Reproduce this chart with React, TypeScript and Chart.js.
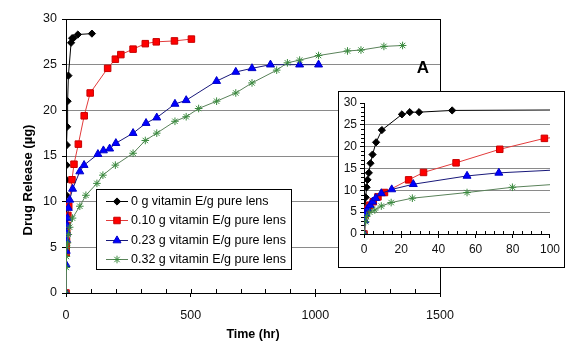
import React, { useEffect, useRef } from 'react';
import { Chart, registerables } from 'chart.js';
import { drawPoint } from 'chart.js/helpers';

Chart.register(...registerables);

// ---- data (time in hr, release in µg) ----
const seriesNames = [
  '0 g vitamin E/g pure lens',
  '0.10 g vitamin E/g pure lens',
  '0.23 g vitamin E/g pure lens',
  '0.32 g vitamin E/g pure lens',
];

const time0 = [0, 0.9, 1.4, 1.9, 2.6, 3.5, 4.6, 6.5, 9.6, 20.4, 24.6, 29.6, 47.4, 104];
const release0 = [0, 8.4, 10.7, 12.4, 14.0, 16.2, 18.2, 21.0, 23.8, 27.4, 27.9, 27.9, 28.3, 28.4];

const time1 = [0, 0.5, 1, 2, 3, 5, 7.5, 11, 24, 32, 49.5, 73, 97, 167, 198, 220, 269, 318, 362, 435, 503];
const release1 = [0, 4.4, 5.0, 5.7, 6.6, 7.4, 8.5, 9.5, 12.4, 14.1, 16.3, 19.4, 21.9, 24.6, 25.6, 26.1, 26.7, 27.3, 27.5, 27.6, 27.8];

const time2 = [0, 0.4, 0.9, 1.9, 3.3, 4.6, 6.3, 9.3, 14.9, 26.5, 55.4, 72.5, 128, 150, 175, 200, 269, 321, 364, 437, 482, 604, 681, 746, 820, 937, 1013];
const release2 = [0, 3.1, 4.6, 5.8, 6.6, 7.4, 8.2, 9.3, 10.2, 11.4, 13.3, 14.0, 15.2, 15.6, 15.8, 16.4, 17.5, 18.6, 19.2, 20.7, 21.1, 23.2, 24.2, 24.6, 25.0, 25.0, 25.0];

const time3 = [0, 0.9, 1.4, 3.1, 5.8, 9.3, 14.6, 26, 55.4, 79.8, 124, 148, 198, 269, 318, 364, 437, 482, 532, 604, 681, 746, 845, 888, 937, 1013, 1129, 1183, 1275, 1350];
const release3 = [0, 2.8, 4.0, 5.0, 5.5, 6.4, 7.2, 8.2, 9.5, 10.7, 12.0, 12.9, 14.0, 15.3, 16.7, 17.5, 18.8, 19.3, 20.2, 21.0, 21.9, 23.0, 24.4, 25.2, 25.5, 26.0, 26.5, 26.6, 27.0, 27.1];

const mainXTicks = [0, 500, 1000, 1500];
const mainYTicks = [0, 5, 10, 15, 20, 25, 30];
const mainXMinor = [100, 200, 300, 400, 500, 600, 700, 800, 900, 1000, 1100, 1200, 1300, 1400];
const insetXTicks = [0, 20, 40, 60, 80, 100];
const insetYTicks = [0, 5, 10, 15, 20, 25, 30];
const insetXMinor = [5, 10, 15, 20, 25, 30, 35, 40, 45, 50, 55, 60, 65, 70, 75, 80, 85, 90, 95];
const insetYMinor = [1, 2, 3, 4, 6, 7, 8, 9, 11, 12, 13, 14, 16, 17, 18, 19, 21, 22, 23, 24, 26, 27, 28, 29];

const seriesTimes = [time0, time1, time2, time3];
const seriesValues = [release0, release1, release2, release3];

// ---- styles ----
const FONT = '"Liberation Sans", Arial, Helvetica, sans-serif';
const seriesStyle = [
  { line: '#000000', fill: '#000000', border: '#000000', shape: 'rectRot', r: 3.6 },
  { line: '#e23b3b', fill: '#ff0000', border: '#c80000', shape: 'rect', r: 4.6 },
  { line: '#18187a', fill: '#0000ff', border: '#0000c8', shape: 'triangle', r: 4.6 },
  { line: '#5a825a', fill: '#3a8a3e', border: '#3a8a3e', shape: 'star', r: 3.8 },
];

function buildDatasets() {
  return seriesNames.map((name, i) => {
    const st = seriesStyle[i];
    return {
      label: name,
      data: seriesTimes[i].map((t, j) => ({ x: t, y: seriesValues[i][j] })),
      showLine: true,
      borderColor: st.line,
      borderWidth: 1,
      backgroundColor: st.fill,
      pointBackgroundColor: st.fill,
      pointBorderColor: st.border,
      pointBorderWidth: 1,
      pointStyle: st.shape,
      pointRadius: st.r,
      pointHoverRadius: st.r,
      tension: 0,
      order: 3 - i,
    };
  });
}

function minorTicksPlugin(xMinor: number[], xLen: number, yMinor: number[], yLen: number) {
  return {
    id: 'minorTicks',
    afterDraw(chart: any) {
      const { ctx, chartArea, scales } = chart;
      ctx.save();
      ctx.strokeStyle = '#000';
      ctx.lineWidth = 1;
      ctx.beginPath();
      xMinor.forEach((v) => {
        const px = Math.round(scales.x.getPixelForValue(v)) + 0.5;
        ctx.moveTo(px, chartArea.bottom);
        ctx.lineTo(px, chartArea.bottom - xLen);
      });
      yMinor.forEach((v) => {
        const py = Math.round(scales.y.getPixelForValue(v)) + 0.5;
        ctx.moveTo(chartArea.left, py);
        ctx.lineTo(chartArea.left - yLen, py);
      });
      ctx.stroke();
      ctx.restore();
    },
  };
}

const legendBoxPlugin = {
  id: 'legendBox',
  afterDatasetsDraw(chart: any) {
    const { ctx } = chart;
    const bx = 96.5, by = 189.5, bw = 195, bh = 80;
    ctx.save();
    ctx.fillStyle = '#fff';
    ctx.fillRect(bx, by, bw, bh);
    ctx.strokeStyle = '#000';
    ctx.lineWidth = 1;
    ctx.strokeRect(bx, by, bw, bh);
    chart.data.datasets.forEach((ds: any, i: number) => {
      const y = Math.round(by + 11.5 + i * 19.4) + 0.5;
      ctx.strokeStyle = ds.borderColor;
      ctx.lineWidth = 1;
      ctx.beginPath();
      ctx.moveTo(106, y);
      ctx.lineTo(128, y);
      ctx.stroke();
      ctx.fillStyle = ds.pointBackgroundColor;
      ctx.strokeStyle = ds.pointBorderColor;
      ctx.lineWidth = 1;
      drawPoint(ctx, { pointStyle: ds.pointStyle, radius: ds.pointRadius, rotation: 0, borderWidth: 1 } as any, 117, y);
      ctx.fillStyle = '#000';
      ctx.font = `12.5px ${FONT}`;
      ctx.textAlign = 'left';
      ctx.textBaseline = 'middle';
      ctx.fillText(ds.label, 131, y + 0.5);
    });
    ctx.restore();
  },
};

const mainTitlesPlugin = {
  id: 'mainTitles',
  afterDraw(chart: any) {
    const { ctx, chartArea } = chart;
    ctx.save();
    ctx.fillStyle = '#000';
    ctx.textAlign = 'center';
    ctx.textBaseline = 'middle';
    ctx.font = `bold 13px ${FONT}`;
    ctx.translate(28, (chartArea.top + chartArea.bottom) / 2 + 24);
    ctx.rotate(-Math.PI / 2);
    ctx.fillText('Drug Release (\u00b5g)', 0, 0);
    ctx.restore();
    ctx.save();
    ctx.fillStyle = '#000';
    ctx.textAlign = 'center';
    ctx.textBaseline = 'middle';
    ctx.font = `bold 12.5px ${FONT}`;
    ctx.fillText('Time (hr)', (chartArea.left + chartArea.right) / 2, chartArea.bottom + 42);
    ctx.font = `bold 17px ${FONT}`;
    ctx.fillText('A', chartArea.right - 17, chartArea.top + 49);
    ctx.restore();
  },
};

function axisOptions(kind: 'main' | 'inset') {
  const isMain = kind === 'main';
  const xMax = isMain ? 1500 : 100;
  const xTickVals = isMain ? mainXTicks : insetXTicks;
  const yTickVals = isMain ? mainYTicks : insetYTicks;
  return {
    x: {
      type: 'linear',
      min: 0,
      max: xMax,
      afterFit: (s: any) => { s.height = isMain ? 60 : 33; },
      afterBuildTicks: (s: any) => { s.ticks = xTickVals.map((v) => ({ value: v })); },
      ticks: {
        color: '#111',
        font: { family: FONT, size: isMain ? 12.5 : 12 },
        padding: isMain ? 11 : 4,
        maxRotation: 0,
        autoSkip: false,
        callback: (v: any) => String(v),
      },
      grid: {
        color: (c: any) => (isMain && c.tick && c.tick.value === xMax ? '#000' : 'rgba(0,0,0,0)'),
        tickColor: '#000',
        tickLength: 4,
        lineWidth: 1,
      },
      border: { display: true, color: '#000', width: 1 },
    },
    y: {
      type: 'linear',
      min: 0,
      max: 30,
      afterFit: (s: any) => { s.width = isMain ? 66 : 25; },
      afterBuildTicks: (s: any) => { s.ticks = yTickVals.map((v) => ({ value: v })); },
      ticks: {
        color: '#111',
        font: { family: FONT, size: isMain ? 12.5 : 12 },
        padding: isMain ? 5 : 3,
        autoSkip: false,
        callback: (v: any) => String(v),
      },
      grid: {
        color: (c: any) => {
          const v = c.tick ? c.tick.value : -1;
          if (v === 0) return 'rgba(0,0,0,0)';
          if (v === 30) return isMain ? '#000' : 'rgba(0,0,0,0)';
          return '#8a8a8a';
        },
        tickColor: '#000',
        tickLength: 4,
        lineWidth: 1,
      },
      border: { display: true, color: '#000', width: 1 },
    },
  };
}

export default function App() {
  const mainRef = useRef<HTMLCanvasElement | null>(null);
  const insetRef = useRef<HTMLCanvasElement | null>(null);

  useEffect(() => {
    document.body.style.margin = '0';
    const common = {
      responsive: false,
      maintainAspectRatio: false,
      devicePixelRatio: 1,
      animation: false as const,
      events: [] as any[],
      plugins: { legend: { display: false }, tooltip: { enabled: false }, title: { display: false } },
    };
    const main = new Chart(mainRef.current as HTMLCanvasElement, {
      type: 'scatter',
      data: { datasets: buildDatasets() as any },
      options: {
        ...common,
        layout: { padding: { left: 0, right: 146, top: 19, bottom: 0 } },
        scales: axisOptions('main') as any,
      } as any,
      plugins: [minorTicksPlugin(mainXMinor, 4, [], 0), legendBoxPlugin, mainTitlesPlugin],
    });
    const inset = new Chart(insetRef.current as HTMLCanvasElement, {
      type: 'scatter',
      data: { datasets: buildDatasets() as any },
      options: {
        ...common,
        layout: { padding: { left: 0, right: 9, top: 11, bottom: 0 } },
        scales: axisOptions('inset') as any,
      } as any,
      plugins: [minorTicksPlugin(insetXMinor, 3, insetYMinor, 3)],
    });
    return () => {
      main.destroy();
      inset.destroy();
    };
  }, []);

  return (
    <div style={{ position: 'absolute', left: 0, top: 0, width: 586, height: 353, background: '#fff', overflow: 'hidden' }}>
      <canvas ref={mainRef} width={586} height={353} style={{ position: 'absolute', left: 0, top: 0, display: 'block' }} />
      <div
        style={{
          position: 'absolute',
          left: 338,
          top: 91,
          width: 227,
          height: 177,
          border: '1px solid #000',
          boxSizing: 'border-box',
          background: '#fff',
        }}
      >
        <canvas ref={insetRef} width={225} height={175} style={{ display: 'block' }} />
      </div>
    </div>
  );
}
